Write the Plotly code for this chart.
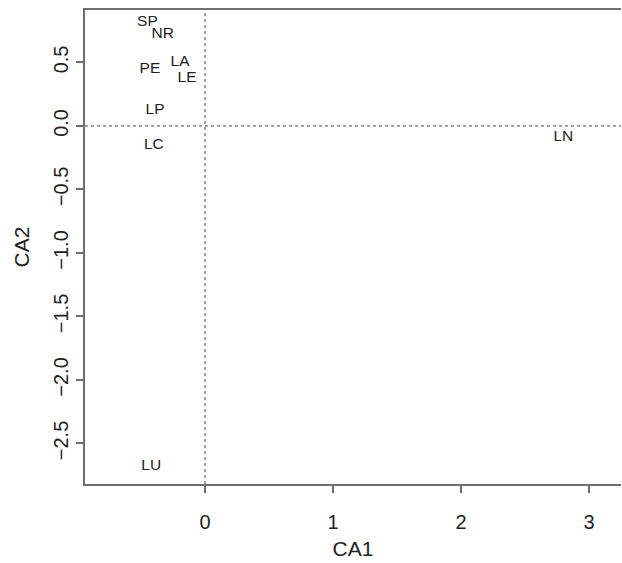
import plotly.graph_objects as go

labels = ["SP", "NR", "PE", "LA", "LE", "LP", "LC", "LN", "LU"]
ca1 = [-0.45, -0.33, -0.43, -0.195, -0.14, -0.39, -0.40, 2.80, -0.42]
ca2 = [0.82, 0.72, 0.45, 0.50, 0.38, 0.125, -0.15, -0.085, -2.68]

x_ticks = [0, 1, 2, 3]
y_ticks = [0.5, 0.0, -0.5, -1.0, -1.5, -2.0, -2.5]
y_ticklabels = ["0.5", "0.0", "\u22120.5", "\u22121.0", "\u22121.5", "\u22122.0", "\u22122.5"]

font_family = "Liberation Sans, Arial, sans-serif"
axis_color = "#6e6e6e"

fig = go.Figure()
fig.add_trace(go.Scatter(
    x=ca1, y=ca2, mode="text", text=labels,
    textposition="middle center",
    textfont=dict(family=font_family, size=15.5, color="#222222"),
    hoverinfo="text", showlegend=False,
))

fig.add_shape(type="line", xref="x", yref="paper", x0=0, x1=0, y0=0, y1=1,
              line=dict(color="#444444", width=1, dash="dot"))
fig.add_shape(type="line", xref="paper", yref="y", x0=0, x1=1, y0=0, y1=0,
              line=dict(color="#444444", width=1, dash="dot"))

fig.update_layout(
    width=622, height=563,
    margin=dict(l=85, r=1, t=10, b=79),
    paper_bgcolor="white", plot_bgcolor="white",
    font=dict(family=font_family, color="#222222"),
    xaxis=dict(
        range=[-0.9375, 3.25], tickvals=x_ticks, ticktext=[str(v) for v in x_ticks],
        showgrid=False, zeroline=False, showline=True, mirror=True,
        linecolor=axis_color, linewidth=1.5,
        ticks="outside", ticklen=7, tickcolor=axis_color, tickwidth=1.5,
        ticklabelstandoff=12,
        tickfont=dict(size=20, color="#222222"),
        title=dict(text="CA1", font=dict(size=21, color="#222222"), standoff=10),
    ),
    yaxis=dict(
        range=[-2.819, 0.913], tickvals=y_ticks, ticktext=y_ticklabels,
        showgrid=False, zeroline=False, showline=True, mirror=False,
        linecolor=axis_color, linewidth=1.5,
        ticks="outside", ticklen=7, tickcolor=axis_color, tickwidth=1.5,
        tickangle=-90,
        tickfont=dict(size=20, color="#222222"),
        title=dict(text="CA2", font=dict(size=21, color="#222222"), standoff=15),
    ),
)

fig.write_html("out.html", config={"displayModeBar": False},
               post_script="document.body.style.margin='0';document.body.style.overflow='hidden';")
